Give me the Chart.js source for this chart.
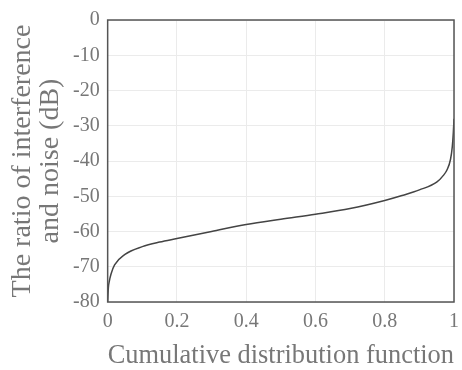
<!DOCTYPE html>
<html>
<head>
<meta charset="utf-8">
<script src="https://cdn.jsdelivr.net/npm/chart.js@4"></script>
<style>
  html, body { margin: 0; padding: 0; background: #fff; }
</style>
</head>
<body>
<canvas id="cdfChart" width="462" height="370"></canvas>
<script>
// values: cumulative probability vs ratio (dB)
var cdfX = [0, 0.002, 0.005, 0.01, 0.02, 0.05, 0.1, 0.15, 0.2, 0.3, 0.4, 0.5, 0.6, 0.7, 0.8, 0.85, 0.9, 0.95, 0.97, 0.98, 0.99, 0.995, 0.998, 1];
var ratioDb = [-80, -76, -74, -72, -69.5, -66.5, -64.3, -63, -62, -60, -58, -56.5, -55.1, -53.5, -51.2, -49.8, -48.2, -46, -44, -42.5, -39.5, -36, -32, -28];

var serif = '"Liberation Serif", "DejaVu Serif", serif';

// box around the plot area (MATLAB style)
var boxPlugin = {
    id: 'box',
    afterDraw: function(chart) {
        var a = chart.chartArea, c = chart.ctx;
        c.save();
        c.strokeStyle = '#555';
        c.lineWidth = 1.5;
        c.strokeRect(a.left, a.top, a.right - a.left, a.bottom - a.top);
        c.restore();
    }
};

var points = cdfX.map(function(x, i) { return { x: x, y: ratioDb[i] }; });

var ctx = document.getElementById('cdfChart').getContext('2d');
var cdfChart = new Chart(ctx, {
    type: 'scatter',
    data: {
        datasets: [{
            data: points,
            showLine: true,
            borderColor: '#444',
            borderWidth: 1.5,
            pointRadius: 0,
            cubicInterpolationMode: 'monotone',
            fill: false
        }]
    },
    options: {
        responsive: false,
        animation: false,
        layout: { padding: { top: 10, right: 8, left: 9, bottom: 0 } },
        plugins: {
            legend: { display: false },
            tooltip: { enabled: false }
        },
        scales: {
            x: {
                type: 'linear',
                min: 0,
                max: 1,
                afterFit: function(scale) { scale.paddingRight = 0; },
                ticks: {
                    stepSize: 0.2,
                    color: '#777',
                    font: { family: serif, size: 20 },
                    padding: 8,
                    callback: function(v) { return String(Math.round(v * 10) / 10); }
                },
                grid: { color: '#ebebeb', tickLength: 0 },
                border: { display: false },
                title: {
                    display: true,
                    text: 'Cumulative distribution function',
                    color: '#777',
                    font: { family: serif, size: 28, lineHeight: 1.0 },
                    padding: { top: 0, bottom: 0 }
                }
            },
            y: {
                min: -80,
                max: 0,
                ticks: {
                    stepSize: 10,
                    color: '#777',
                    font: { family: serif, size: 20 },
                    padding: 8
                },
                grid: { color: '#ebebeb', tickLength: 0 },
                border: { display: false },
                title: {
                    display: true,
                    text: ['The ratio of interference', 'and noise (dB)'],
                    color: '#777',
                    font: { family: serif, size: 28, lineHeight: 1.0 },
                    padding: { top: 0, bottom: 0 }
                }
            }
        }
    },
    plugins: [boxPlugin]
});
</script>
</body>
</html>
